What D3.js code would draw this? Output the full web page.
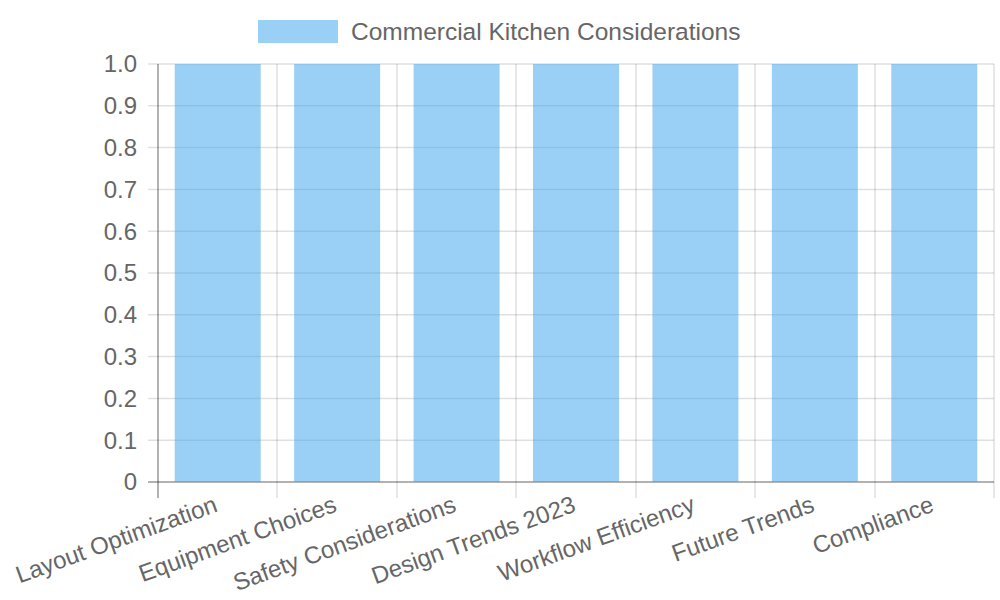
<!DOCTYPE html>
<html><head><meta charset="utf-8">
<script src="https://cdn.jsdelivr.net/npm/d3@7"></script>
<style>body{margin:0;background:#fff}svg{display:block;font-family:"Liberation Sans",Arial,sans-serif}</style>
</head><body><svg id="c" width="1000" height="600"></svg>
<script>
const categories = ["Layout Optimization","Equipment Choices","Safety Considerations","Design Trends 2023","Workflow Efficiency","Future Trends","Compliance"];
const values = [1,1,1,1,1,1,1];
const yTicks = [0,0.1,0.2,0.3,0.4,0.5,0.6,0.7,0.8,0.9,1.0];
const seriesName = "Commercial Kitchen Considerations";

(function(){
const svg = d3.select("#c");
const pl = 158, pr = 994, pt = 64, pb = 482;
const x = d3.scaleBand().domain(categories).range([pl, pr]).paddingInner(0).paddingOuter(0);
const y = d3.scaleLinear().domain([0, 1]).range([pb, pt]);
const fill = "rgba(54,162,235,0.5)";
const txt = "#666";
const fs = 24;

const g = svg.append("g");
const vx = categories.map(c => x(c)).concat([pr]);
g.selectAll("line.v").data(vx).join("line")
  .attr("x1", d => Math.round(d)).attr("x2", d => Math.round(d))
  .attr("y1", pt).attr("y2", pb + 16)
  .attr("stroke-width", (d, i) => i === 0 ? 2 : 1.5)
  .attr("stroke", (d, i) => i === 0 ? "rgba(0,0,0,0.3)" : "rgba(0,0,0,0.12)");
g.selectAll("line.h").data(yTicks).join("line")
  .attr("x1", pl - 10).attr("x2", pr)
  .attr("y1", d => y(d)).attr("y2", d => y(d))
  .attr("stroke-width", d => d === 0 ? 2 : 1.5)
  .attr("stroke", d => d === 0 ? "rgba(0,0,0,0.3)" : "rgba(0,0,0,0.12)");

const bw = x.bandwidth() * 0.72;
svg.append("g").selectAll("rect").data(values).join("rect")
  .attr("x", (d, i) => x(categories[i]) + (x.bandwidth() - bw) / 2)
  .attr("width", bw)
  .attr("y", d => y(d)).attr("height", d => pb - y(d))
  .attr("fill", fill);

svg.append("g").selectAll("text").data(yTicks).join("text")
  .attr("x", 137).attr("y", d => y(d)).attr("dy", "0.35em")
  .attr("text-anchor", "end").attr("fill", txt).attr("font-size", fs)
  .text(d => d === 0 ? "0" : d3.format(".1f")(d));

svg.append("g").selectAll("text").data(categories).join("text")
  .attr("transform", d => `translate(${x(d) + x.bandwidth() / 2 + 1},${pb + 29}) rotate(-20)`)
  .attr("text-anchor", "end").attr("fill", txt).attr("font-size", fs)
  .text(d => d);

const lg = svg.append("g");
lg.append("rect").attr("x", 258).attr("y", 20).attr("width", 80).attr("height", 23).attr("fill", fill);
lg.append("text").attr("x", 351).attr("y", 31.5).attr("dy", "0.35em").attr("fill", txt).attr("font-size", 24.5).text(seriesName);
})();
</script></body></html>
